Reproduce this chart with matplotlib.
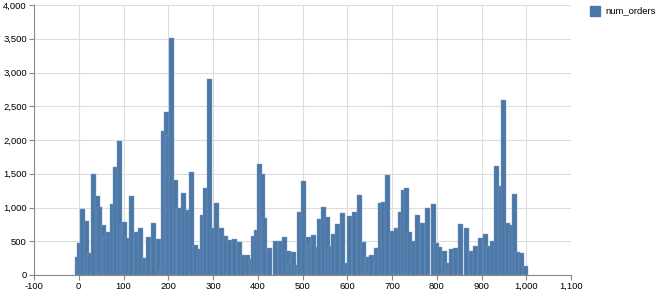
import matplotlib
matplotlib.use("Agg")
import matplotlib.pyplot as plt
from matplotlib.patches import Rectangle
from matplotlib.ticker import FuncFormatter, MultipleLocator

plt.rcParams['font.family'] = ['Liberation Sans', 'DejaVu Sans']

ids = [-3, 2, 9, 18, 24, 32, 41, 47, 55, 60, 67, 75, 82, 90, 97, 103, 110, 118,
       128, 139, 147, 156, 167, 178, 185, 189, 195, 200, 207, 216, 222, 226, 233,
       242, 251, 260, 269, 277, 284, 293, 300, 307, 318, 328, 337, 348, 359, 369,
       378, 385, 391, 398, 404, 410, 416, 426, 439, 450, 459, 469, 474, 481, 487,
       494, 502, 513, 518, 525, 533, 539, 546, 556, 562, 569, 579, 590, 598, 606,
       616, 628, 636, 642, 648, 655, 665, 675, 682, 691, 701, 710, 719, 725, 733,
       740, 748, 758, 769, 780, 793, 800, 807, 817, 825, 828, 834, 843, 854, 867,
       877, 886, 897, 908, 916, 924, 934, 942, 949, 959, 966, 973, 981, 989, 999]
num_orders = [270, 480, 975, 800, 320, 1500, 1175, 1005, 743, 570, 634, 1054,
              1600, 1990, 730, 780, 545, 1163, 634, 700, 250, 570, 767, 530, 124,
              2135, 2415, 2075, 3510, 1405, 956, 990, 1208, 966, 1528, 439, 385,
              882, 1287, 2904, 695, 1070, 690, 572, 513, 537, 488, 300, 300, 237,
              572, 670, 1650, 1500, 851, 396, 500, 500, 570, 361, 188, 337, 148,
              935, 1396, 570, 445, 594, 420, 827, 1005, 866, 435, 609, 757, 916,
              173, 881, 935, 1178, 485, 272, 262, 302, 406, 1074, 1084, 1485, 653,
              693, 940, 1262, 1282, 634, 510, 891, 777, 990, 1054, 470, 411, 351,
              173, 124, 381, 396, 757, 693, 356, 430, 545, 609, 430, 500, 1609,
              1322, 2600, 767, 743, 1203, 337, 332, 134]

color = '#4c78a8'

fig = plt.figure(figsize=(6.6, 3.0), dpi=100)
ax = fig.add_axes([34 / 660, 25 / 300, 537 / 660, 270 / 300])

# 5 px wide bars, like the default continuous band size
bar_w = 5 / (537 / 1200)
ax.bar(ids, num_orders, width=bar_w, color=color, edgecolor='#7f9dc1',
       linewidth=0.3, zorder=2)

ax.set_xlim(-100, 1100)
ax.set_ylim(0, 4000)
ax.xaxis.set_major_locator(MultipleLocator(100))
ax.yaxis.set_major_locator(MultipleLocator(500))
fmt = FuncFormatter(lambda v, p: f"{int(v):,}")
ax.xaxis.set_major_formatter(fmt)
ax.yaxis.set_major_formatter(fmt)

ax.grid(True, color='#dddddd', linewidth=0.8, zorder=0)
ax.set_axisbelow(True)
for s in ['top', 'right']:
    ax.spines[s].set_visible(False)
for s in ['left', 'bottom']:
    ax.spines[s].set_color('#888888')
    ax.spines[s].set_linewidth(0.8)
ax.tick_params(colors='#888888', length=3.6, width=0.8, labelsize=6.8,
               labelcolor='#000000', pad=1.5)

fig.canvas.draw()
xlabels = ax.get_xticklabels()
xlabels[0].set_ha('left')
xlabels[-1].set_ha('right')

fig.patches.append(Rectangle((590 / 660, 1 - 16 / 300), 10 / 660, 10 / 300,
                             transform=fig.transFigure, color=color))
fig.text(605 / 660, 1 - 11 / 300, 'num_orders', fontsize=6.8, va='center', ha='left')

plt.savefig('out.png', dpi=100)
